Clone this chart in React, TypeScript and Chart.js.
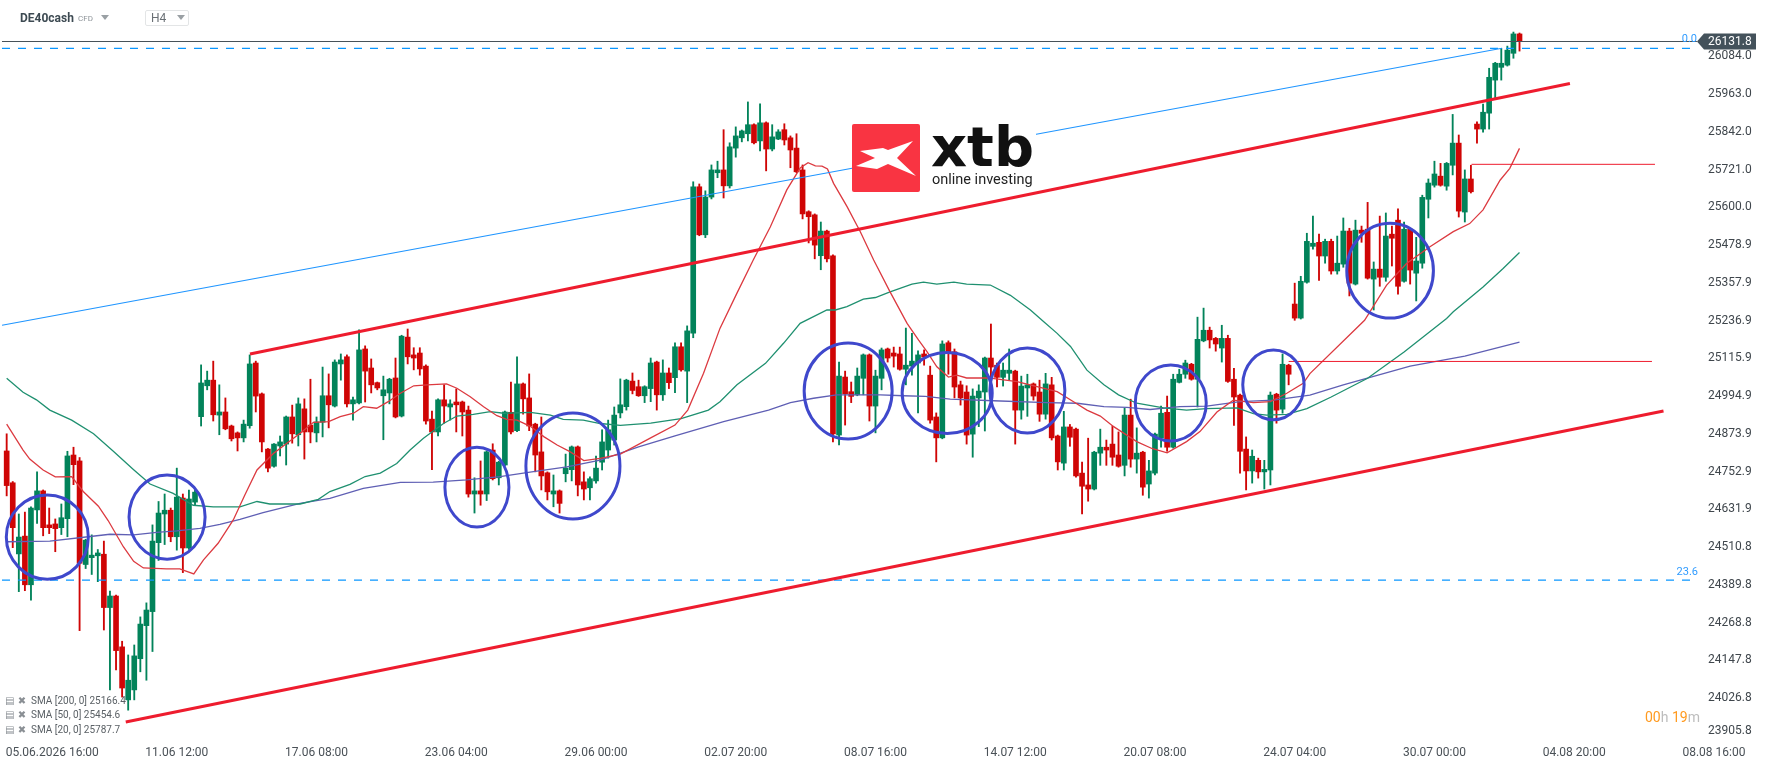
import React from "react";
import Chart from "chart.js/auto";

// candles, oldest first
const opens = [
    24819,24717,24489,24546,24390,24630,24691,24582,24585,24573,
    24602,24806,24787,24455,24477,24483,24488,24317,24354,24191,
    24021,24053,24153,24259,24304,24525,24617,24629,24544,24668,
    24508,24655,24929,25028,25046,24934,24944,24899,24877,24861,
    24900,25101,25002,24825,24770,24835,24841,24928,24871,24954,
    24902,24877,24911,24996,24963,25098,25121,24970,24973,25146,
    25085,25038,24996,25005,25053,24931,25184,25127,25133,25091,
    24921,24880,24983,24960,24976,24976,24950,24681,24691,24681,
    24822,24733,24774,24943,24884,25034,24989,24905,24816,24749,
    24681,24691,24746,24759,24832,24720,24701,24723,24783,24822,
    24854,24941,24961,25043,25025,24996,25019,25104,24999,25069,
    25054,25153,25075,25197,25666,25512,25633,25711,25720,25669,
    25790,25823,25836,25865,25813,25871,25787,25819,25849,25823,
    25790,25720,25586,25576,25445,25524,25445,24870,25056,25009,
    24999,25052,25127,24963,25052,25146,25133,25130,25081,25091,
    25101,25130,25062,24928,24861,25166,25137,25031,25008,24873,
    24989,25008,25117,25094,25055,25068,25075,24950,25021,25034,
    25008,24937,25031,24867,24780,24896,24889,24748,24710,24697,
    24812,24831,24841,24806,24773,24934,24793,24815,24713,24748,
    24860,24943,24831,25039,25065,25097,25049,25172,25206,25180,
    25149,25180,25049,24998,24825,24755,24789,24752,24758,25001,
    24953,25094,25290,25245,25360,25475,25488,25444,25491,25396,
    25418,25524,25354,25527,25530,25370,25402,25376,25514,25559,
    25363,25530,25389,25421,25626,25671,25700,25668,25735,25806,
    25585,25691,25867,25851,25902,26008,26049,26056,26094,26156,
];
const highs = [
    24874,24721,24617,24623,24640,24752,24694,24636,24601,24649,
    24818,24831,24798,24536,24550,24503,24530,24370,24357,24209,
    24165,24197,24287,24332,24582,24657,24681,24636,24764,24681,
    24694,24697,25095,25075,25107,25031,24989,24902,24880,24918,
    25127,25107,25005,24827,24843,24867,24931,24966,24989,24986,
    25049,24928,25088,25066,25111,25130,25127,24992,25207,25156,
    25114,25040,25059,25052,25117,25190,25210,25150,25150,25095,
    24947,24986,25031,24983,25018,24979,24963,24733,24787,24819,
    24842,24786,24947,25040,25121,25037,25066,24908,24928,24752,
    24742,24694,24809,24835,24835,24752,24736,24803,24887,24918,
    24960,25050,25049,25069,25046,25028,25117,25107,25111,25085,
    25166,25166,25220,25682,25675,25653,25736,25748,25849,25807,
    25858,25848,25938,25868,25932,25874,25865,25849,25868,25829,
    25836,25736,25589,25579,25553,25527,25448,25104,25075,25040,
    25085,25130,25130,25078,25149,25149,25152,25152,25213,25196,
    25140,25143,25091,24941,25172,25172,25146,25043,25028,25018,
    25031,25120,25226,25101,25101,25146,25078,25059,25065,25037,
    25046,25068,25055,24870,24946,24904,24892,24783,24860,24818,
    24889,24854,24899,24880,24956,24985,24893,24818,24789,24876,
    24963,24995,25065,25081,25110,25100,25248,25277,25216,25183,
    25222,25190,25084,25001,24864,24822,24796,24789,25008,25004,
    25130,25097,25357,25379,25517,25572,25514,25498,25498,25508,
    25566,25533,25559,25540,25616,25425,25572,25582,25540,25595,
    25553,25533,25504,25639,25691,25748,25741,25744,25898,25832,
    25720,25735,25874,25931,26046,26065,26110,26117,26162,26159,
];
const lows = [
    24675,24509,24368,24371,24341,24587,24547,24554,24496,24551,
    24544,24711,24243,24442,24423,24400,24245,24053,24117,24030,
    23988,24021,24111,24084,24176,24468,24519,24528,24501,24429,
    24503,24645,24899,25015,24915,24871,24887,24851,24819,24848,
    24892,24944,24816,24752,24767,24803,24774,24844,24835,24793,
    24845,24848,24864,24893,24960,25046,24960,24918,24970,24976,
    25005,25015,24855,24970,24925,24928,25098,25079,25062,24905,
    24759,24867,24908,24918,24880,24867,24671,24620,24645,24660,
    24726,24710,24771,24874,24881,24937,24884,24752,24694,24662,
    24640,24620,24720,24723,24675,24662,24662,24716,24758,24796,
    24838,24925,24950,25002,24994,24974,24977,24950,24981,25019,
    25006,25075,24974,25182,25509,25503,25627,25695,25630,25662,
    25761,25810,25813,25803,25781,25717,25781,25817,25800,25727,
    25711,25563,25486,25435,25400,25425,24848,24838,24902,24974,
    24996,24999,24915,24877,25015,25104,25088,25078,25031,25062,
    24941,25094,24908,24784,24858,25065,24989,24966,24841,24799,
    24897,24883,25046,25024,25027,25046,24841,24921,24930,24982,
    24914,24921,24854,24758,24758,24834,24735,24617,24658,24694,
    24773,24773,24773,24767,24739,24767,24748,24677,24668,24742,
    24831,24818,24828,25037,25052,25046,24960,25169,25149,25139,
    25104,25039,24901,24748,24694,24716,24732,24697,24710,24908,
    24940,25031,25238,25242,25357,25466,25366,25421,25386,25386,
    25408,25316,25351,25488,25370,25271,25347,25363,25412,25322,
    25360,25354,25300,25405,25566,25665,25668,25655,25704,25569,
    25553,25646,25806,25841,25851,25950,26008,26053,26078,26101,
];
const closes = [
    24708,24573,24543,24390,24636,24691,24573,24573,24570,24605,
    24803,24775,24459,24533,24485,24492,24317,24354,24179,24059,
    24084,24162,24264,24309,24530,24620,24629,24544,24671,24508,
    24665,24687,25037,25046,24935,24944,24890,24858,24861,24905,
    25098,24995,24848,24764,24841,24848,24928,24874,24970,24880,
    24880,24912,24996,24967,25104,25111,24970,24983,25143,25075,
    25031,25021,25015,25049,24928,25187,25121,25117,25082,24915,
    24880,24983,24963,24970,24967,24944,24681,24691,24681,24816,
    24730,24783,24944,24880,25034,24986,24899,24806,24739,24688,
    24691,24651,24764,24832,24710,24697,24730,24764,24848,24887,
    24934,24967,25046,25013,24996,25025,25101,24999,25069,25038,
    25153,25079,25204,25666,25512,25633,25720,25720,25669,25794,
    25829,25845,25865,25807,25871,25787,25826,25842,25816,25784,
    25714,25579,25570,25479,25524,25435,24874,25059,25002,24994,
    25059,25127,24963,25059,25143,25117,25123,25081,25094,25107,
    25127,25120,24918,24861,25162,25137,25024,24989,24870,24995,
    25011,25117,25088,25055,25078,25078,24950,25027,25031,24995,
    24937,25034,24861,24784,24896,24863,24739,24706,24697,24815,
    24831,24822,24799,24770,24934,24793,24812,24703,24755,24873,
    24940,24831,25049,25065,25101,25049,25177,25206,25175,25162,
    25180,25042,24992,24818,24755,24802,24752,24760,24998,24950,
    25097,25065,25245,25363,25491,25485,25444,25491,25396,25421,
    25524,25357,25527,25517,25373,25402,25376,25508,25501,25347,
    25530,25399,25428,25632,25678,25707,25671,25741,25806,25588,
    25691,25650,25851,25905,26017,26062,26062,26104,26156,26132,
];

// moving averages as [bar, price]
const sma20 = [
    [0,24905],[2.7,24822],[3.8,24793],[6,24758],[8,24736],[10.7,24737],[12.6,24689],[15.1,24642],[16.7,24596],[19.2,24512],
    [20.9,24465],[22.5,24444],[26.3,24441],[28.5,24441],[30.8,24425],[32.4,24470],[34.8,24523],[37.3,24598],[39.2,24678],[41.2,24758],
    [43.9,24811],[48.3,24876],[50.5,24911],[53,24913],[54.9,24929],[57.1,24940],[58.7,24961],[60.9,24956],[62.8,24977],[64.8,25004],
    [67,25028],[69.2,25031],[72.4,25034],[74.1,25020],[76.3,24993],[78.5,24961],[80.7,24932],[82.3,24920],[84,24918],[86.2,24898],
    [88.4,24865],[90.6,24838],[92.7,24817],[95,24788],[97.7,24795],[101,24809],[106,24861],[110,24902],[112.1,24950],[114.7,25068],
    [117.4,25212],[120.2,25325],[122.9,25432],[125.7,25538],[128.4,25656],[130.6,25726],[131.9,25743],[133.1,25733],[134.2,25732],[135.1,25723],
    [136.1,25677],[138.3,25603],[140.5,25522],[142.7,25431],[145.4,25329],[148.2,25228],[150.1,25174],[151.5,25137],[153.1,25089],[155,25056],
    [156.4,25062],[158,25053],[161.6,25053],[166.3,25041],[169.6,25025],[172.9,25009],[175.6,24977],[177.8,24950],[180,24931],[182.2,24897],
    [186,24849],[188.5,24827],[191,24813],[194.2,24849],[196.4,24881],[199.2,24944],[201.9,24982],[205.2,24974],[208,24977],[210.7,25004],
    [213.4,25036],[214.5,25067],[223.5,25238],[227.1,25350],[230.4,25420],[234.2,25473],[238.1,25522],[240.8,25548],[243,25592],[245.8,25687],
    [247.4,25725],[249,25789],
];
const sma50 = [
    [0,25052],[2.7,25007],[4.9,24983],[7.1,24950],[10.7,24918],[14.3,24874],[17.6,24817],[20.9,24759],[23.6,24713],[27.4,24683],
    [30.7,24645],[34,24640],[38.4,24640],[41.2,24657],[43.3,24649],[48.3,24649],[51.3,24664],[53.2,24689],[56.5,24712],[59,24737],
    [61.5,24748],[64.2,24779],[66.4,24822],[68.6,24860],[71.9,24907],[74.1,24931],[76.8,24936],[79.6,24945],[81.8,24940],[86.2,24943],
    [89.5,24934],[91.6,24920],[94.9,24918],[97.7,24907],[101,24901],[106,24908],[111,24923],[115.5,24950],[117.4,24977],[120.2,25031],
    [124.9,25100],[127.9,25165],[130.6,25228],[135,25271],[136.4,25271],[138.3,25282],[141,25306],[143,25311],[145.4,25329],[149,25354],
    [150.9,25360],[153.1,25354],[155.9,25360],[158,25354],[161.9,25351],[165.2,25318],[168.5,25271],[170.7,25233],[172.9,25196],[175.1,25154],
    [177.8,25078],[180.6,25031],[183,24999],[186,24972],[190.4,24957],[194.2,24950],[197.5,24955],[202.5,24957],[205.2,24939],[207.4,24934],
    [210.7,24936],[214,24955],[218,24992],[224,25052],[230,25136],[237,25244],[238.1,25265],[243,25345],[246.3,25404],[249,25455],
];
const sma200 = [
    [0,24528],[7.1,24530],[13.4,24544],[17,24552],[20.9,24550],[24.7,24558],[28,24563],[31.8,24571],[35.1,24584],[38.4,24600],
    [42.2,24621],[48.3,24651],[53.2,24667],[58.7,24699],[64.8,24718],[70.2,24719],[75.7,24726],[81.2,24737],[86.7,24753],[92.2,24768],
    [97.7,24790],[104,24832],[110,24867],[118,24913],[125.4,24950],[129,24974],[132.8,24988],[136.6,24999],[143.8,24999],[147.6,24996],
    [151.2,24994],[155.3,24985],[162.4,24980],[171.2,24974],[176.2,24972],[180.6,24961],[184.4,24959],[188.2,24952],[193.1,24961],[197.5,24963],
    [203,24977],[208.5,24982],[214.5,24998],[220,25031],[231,25091],[240,25123],[249,25168],
];

// hand drawn trend lines and levels as [bar, price] ends
const channelTop = [[40.05,25130],[257.3,25997]];
const channelBottom = [[19.6,23950],[272.7,24947]];
const fibTrend = [[-0.77,25222],[246.1,26110]];
const levelHigh = [[241.1,25738],[271.3,25738]];
const levelLow = [[211,25106],[270.8,25106]];
const fibZero = [[-0.77,26110],[278.3,26110]];
const fibLow = [[-0.77,24405],[278.3,24405]];
const lastPriceLine = [[-0.77,26131.8],[278.2,26131.8]];
const lastPrice = 26131.8;

// circles: bar, price, half width in bars, half height in price
const circles = [
    [6.69,24543,6.75,135],[26.4,24607,6.26,135],[77.4,24703,5.27,128],[93.2,24771,7.74,170],[138.5,25011,7.24,154],
    [154.8,25005,7.41,130],[168,25013,6.17,136],[191.6,24973,5.84,122],[208.5,25031,5.05,112],[227.7,25397,7.13,152],
];

// the lowest label is held up at the bottom edge of the plot
const priceTickValues = [26084.0,25963.0,25842.0,25721.0,25600.0,25478.9,25357.9,25236.9,25115.9,24994.9,24873.9,24752.9,24631.9,24510.8,24389.8,24268.8,24147.8,24026.8,23922];
const priceTickLabels = ["26084.0","25963.0","25842.0","25721.0","25600.0","25478.9","25357.9","25236.9","25115.9","24994.9","24873.9","24752.9","24631.9","24510.8","24389.8","24268.8","24147.8","24026.8","23905.8"];
const timeTickBars = [7.5,28,51,74,97,120,143,166,189,212,235,258,281];
const timeLabels = ["05.06.2026 16:00","11.06 12:00","17.06 08:00","23.06 04:00","29.06 00:00","02.07 20:00","08.07 16:00","14.07 12:00","20.07 08:00","24.07 04:00","30.07 00:00","04.08 20:00","08.08 16:00"];

const UP = "#02835a";
const DOWN = "#cf0505";

const toXY = (pts: number[][]) => pts.map(p => ({x: p[0], y: p[1]}));

// the axes must not push the plot area inwards, their labels sit inside it
const noMargins = (s: any) => {
    s.paddingTop = 0;
    s.paddingBottom = 0;
    s.paddingLeft = 0;
    s.paddingRight = 0;
};

const drawingsPlugin = {
    id: "drawings",
    afterDatasetsDraw(chart: any) {
        const {ctx, scales: {x, y}} = chart;
        ctx.save();
        // blue circles
        ctx.strokeStyle = "#3f48cc";
        ctx.lineWidth = 3;
        circles.forEach(c => {
            const cx = x.getPixelForValue(c[0]);
            const cy = y.getPixelForValue(c[1]);
            const rx = x.getPixelForValue(c[0] + c[2]) - cx;
            const ry = cy - y.getPixelForValue(c[1] + c[3]);
            ctx.beginPath();
            ctx.ellipse(cx, cy, rx, ry, 0, 0, Math.PI * 2);
            ctx.stroke();
        });
        // fib level names
        ctx.fillStyle = "#2f9bff";
        ctx.font = "11px Roboto";
        ctx.textAlign = "right";
        ctx.textBaseline = "middle";
        ctx.fillText("0.0", 1697, y.getPixelForValue(fibZero[0][1]) - 9);
        ctx.fillText("23.6", 1698, y.getPixelForValue(fibLow[0][1]) - 8);
        // last price tag
        const py = y.getPixelForValue(lastPrice);
        ctx.fillStyle = "#44525b";
        ctx.beginPath();
        ctx.moveTo(1697, py);
        ctx.lineTo(1704, py - 8);
        ctx.lineTo(1756, py - 8);
        ctx.lineTo(1756, py + 8);
        ctx.lineTo(1704, py + 8);
        ctx.closePath();
        ctx.fill();
        ctx.fillStyle = "#ffffff";
        ctx.font = "12px Roboto";
        ctx.textAlign = "left";
        ctx.fillText(lastPrice.toFixed(1), 1708, py + 0.5);
        ctx.restore();
    },
};

const lineSet = (pts: number[][], color: string, width: number, order: number, dash: number[] = []) => ({
    type: "line",
    data: toXY(pts),
    borderColor: color,
    borderWidth: width,
    borderDash: dash,
    pointRadius: 0,
    tension: 0,
    order: order,
});

function CandleChart() {
    const canvasRef = React.useRef<HTMLCanvasElement | null>(null);

    React.useEffect(() => {
        if (!canvasRef.current) return;
        const isUp = (i: number) => closes[i] >= opens[i];
        const chart = new Chart(canvasRef.current, {
            type: "bar",
            data: {
                datasets: [
                    lineSet(channelTop, "#ee1c2e", 3, 1),
                    lineSet(channelBottom, "#ee1c2e", 3, 1),
                    lineSet(levelHigh, "#ee1c2e", 1, 1),
                    lineSet(levelLow, "#ee1c2e", 1, 1),
                    lineSet(fibTrend, "#1f95ff", 1.2, 2),
                    lineSet(fibZero, "#0a96ff", 1.2, 2, [8, 8]),
                    lineSet(fibLow, "#0a96ff", 1.2, 2, [8, 8]),
                    lineSet(lastPriceLine, "#475259", 1.2, 3),
                    lineSet(sma20, "#dc3a40", 1.3, 4),
                    lineSet(sma50, "#1f9070", 1.3, 4),
                    lineSet(sma200, "#5f5fb4", 1.3, 4),
                    {
                        data: opens.map((o, i) => ({x: i, y: [o, closes[i]]})),
                        backgroundColor: opens.map((_, i) => isUp(i) ? UP : DOWN),
                        barThickness: 5,
                        grouped: false,
                        order: 8,
                    },
                    {
                        data: opens.map((_, i) => ({x: i, y: [lows[i], highs[i]]})),
                        backgroundColor: opens.map((_, i) => isUp(i) ? UP : DOWN),
                        barThickness: 1.2,
                        grouped: false,
                        order: 9,
                    },
                ] as any,
            },
            options: {
                animation: false,
                responsive: false,
                devicePixelRatio: 1,
                layout: {padding: 0},
                plugins: {legend: {display: false}, tooltip: {enabled: false}},
                scales: {
                    x: {
                        type: "linear",
                        offset: false,
                        min: -1.098,
                        max: 289.9,
                        grid: {display: false},
                        border: {display: false},
                        afterFit: (s: any) => { s.height = 28; noMargins(s); },
                        afterBuildTicks: (s: any) => { s.ticks = timeTickBars.map(v => ({value: v})); },
                        ticks: {
                            autoSkip: false,
                            maxRotation: 0,
                            padding: 5,
                            color: "#4a5157",
                            font: {family: "Roboto", size: 12},
                            callback: (_v: any, i: number) => timeLabels[i],
                        },
                    },
                    y: {
                        type: "linear",
                        position: "left",
                        min: 23914.8,
                        max: 26264.8,
                        grid: {display: false},
                        border: {display: false},
                        afterFit: (s: any) => { s.width = 0; noMargins(s); },
                        afterBuildTicks: (s: any) => { s.ticks = priceTickValues.map(v => ({value: v})); },
                        ticks: {
                            mirror: true,
                            padding: 1708,
                            color: "#3f464c",
                            font: {family: "Roboto", size: 12},
                            callback: (_v: any, i: number) => priceTickLabels[i],
                        },
                    },
                } as any,
            },
            plugins: [drawingsPlugin],
        } as any);
        return () => chart.destroy();
    }, []);

    return <canvas ref={canvasRef} width={1768} height={761} style={{display: "block"}}></canvas>;
}

const abs = (left: number, top: number, extra: any = {}) => ({position: "absolute", left, top, whiteSpace: "nowrap", ...extra}) as any;
const caret = (left: number, top: number) => abs(left, top, {width: 0, height: 0, borderLeft: "4px solid transparent", borderRight: "4px solid transparent", borderTop: "5px solid #9aa0a4"});

export default function App() {
    const legendRows = [
        {text: "SMA [200, 0] 25166.4", top: 695},
        {text: "SMA [50, 0] 25454.6", top: 709},
        {text: "SMA [20, 0] 25787.7", top: 724},
    ];
    return (
        <div style={{position: "absolute", left: 0, top: 0, width: 1768, height: 761, background: "#fff", overflow: "hidden", fontFamily: "Roboto"}}>
            <CandleChart />

            <span style={abs(20, 11, {fontSize: 12, fontWeight: 700, color: "#3d4a52"})}>DE40cash</span>
            <span style={abs(78, 14, {fontSize: 8, color: "#8d9398"})}>CFD</span>
            <div style={caret(101, 15)}></div>
            <div style={abs(145, 10, {width: 42, height: 14, border: "1px solid #e3e5e6", borderRadius: 2})}></div>
            <span style={abs(151, 11, {fontSize: 12, color: "#6a7075"})}>H4</span>
            <div style={caret(177, 15)}></div>

            {legendRows.map((row, index) => (
                <div key={index}>
                    <span style={abs(5, row.top, {fontSize: 10, color: "#8a8f94", fontFamily: "DejaVu Sans"})}>▤ ✖</span>
                    <span style={abs(31, row.top, {fontSize: 10, color: "#5b6166"})}>{row.text}</span>
                </div>
            ))}

            <span style={abs(1645, 709, {fontSize: 14, color: "#bdbdbd"})}>
                <span style={{color: "#ff9a1f"}}>00</span>h <span style={{color: "#ff9a1f"}}>19</span>m
            </span>

            <div style={abs(852, 122, {width: 184, height: 66, background: "#fff"})}>
                <svg width={68} height={69} style={{position: "absolute", left: 0, top: 2}}>
                    <rect x={0} y={0} width={68} height={68} rx={2} fill="#f93442"></rect>
                    <polygon points="8,27 31,24 36,26 61,17 45,34 64,52 36,40 25,45 4,42 23,34" fill="#fff"></polygon>
                </svg>
                <span style={abs(79, -8, {fontSize: 56, fontWeight: 700, color: "#111", fontFamily: "DejaVu Sans"})}>xtb</span>
                <span style={abs(80, 49, {fontSize: 14.5, color: "#222"})}>online investing</span>
            </div>
        </div>
    );
}
